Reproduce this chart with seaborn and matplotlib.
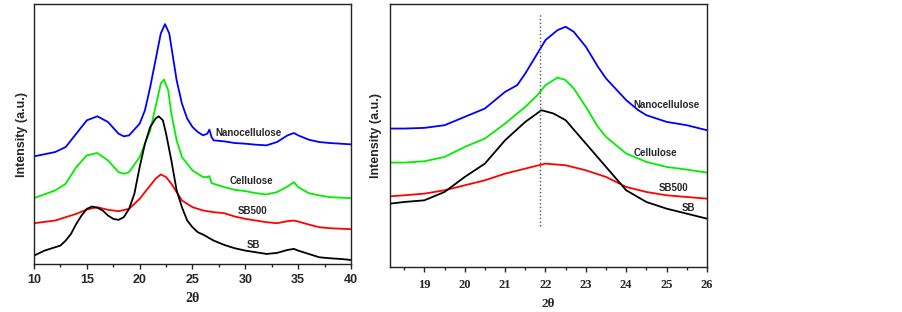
import numpy as np
import pandas as pd
import seaborn as sns
import matplotlib.pyplot as plt
from matplotlib.ticker import MultipleLocator

# ---- left panel: full scan, 2theta 10-40 (intensity in arbitrary units) ----
nano_x = [10, 12, 13, 14, 15, 16, 17, 18, 18.5, 19, 20, 20.5, 21, 21.5, 22, 22.4, 22.8, 23.2, 23.5, 24,
          24.5, 25, 25.5, 26, 26.4, 26.6, 26.8, 27, 28, 29, 30, 31, 32, 33, 34, 34.6, 35, 36, 37, 38, 40]
nano_y = [322, 335, 350, 390, 430, 442, 425, 390, 382, 385, 420, 460, 530, 610, 690, 718, 690, 610, 550, 480,
          435, 410, 395, 385, 390, 402, 380, 370, 367, 362, 360, 357, 355, 365, 385, 392, 385, 372, 365, 362, 358]

cell_x = [10, 12, 13, 14, 15, 16, 17, 18, 18.5, 19, 20, 21, 21.5, 22, 22.3, 22.7, 23, 23.5, 24, 25,
          26, 26.4, 26.6, 26.8, 27, 28, 29, 30, 31, 32, 33, 34, 34.6, 35, 36, 37, 38, 40]
cell_y = [197, 220, 240, 290, 325, 332, 310, 275, 270, 275, 320, 400, 470, 540, 552, 520, 450, 370, 320, 280,
          260, 260, 263, 242, 240, 230, 222, 218, 212, 208, 215, 232, 245, 230, 212, 205, 200, 197]

sb500_x = [10, 12, 13, 14, 15, 16, 17, 18, 19, 20, 21, 21.5, 22, 22.5, 23, 23.5, 24, 25, 26, 27,
           28, 29, 30, 31, 32, 33, 34, 34.6, 35, 36, 37, 38, 40]
sb500_y = [122, 130, 140, 150, 163, 170, 162, 158, 165, 195, 235, 255, 268, 260, 240, 215, 190, 170, 160, 155,
           152, 142, 135, 130, 125, 122, 128, 130, 127, 118, 110, 107, 104]

sb_x = [10, 11, 12, 12.5, 13, 13.5, 14, 14.5, 15, 15.5, 16, 16.5, 17, 17.5, 18, 18.5, 19, 19.5, 20, 20.5,
        21, 21.5, 21.8, 22.2, 22.5, 23, 23.5, 24, 24.5, 25, 25.5, 26, 27, 28, 29, 30, 31, 32, 33, 34,
        34.6, 35, 36, 37, 38, 39, 40]
sb_y = [25, 40, 50, 55, 70, 90, 120, 145, 165, 172, 168, 160, 145, 135, 132, 140, 165, 210, 290, 360,
        410, 435, 442, 430, 390, 310, 220, 170, 130, 110, 95, 88, 70, 57, 47, 40, 35, 30, 33, 42,
        45, 40, 30, 20, 17, 15, 12]

# ---- right panel: zoom on 2theta 18-26 ----
znano_x = [18.15, 18.5, 19, 19.5, 20, 20.5, 21, 21.3, 21.5, 21.8, 22, 22.3, 22.5, 22.7, 23, 23.3, 23.5, 24,
           24.3, 24.5, 25, 25.5, 26]
znano_y = [415, 415, 417, 425, 450, 475, 525, 545, 580, 640, 680, 710, 720, 705, 660, 600, 565, 500,
           470, 455, 435, 425, 410]

zcell_x = [18.15, 18.5, 19, 19.5, 20, 20.5, 21, 21.5, 21.8, 22, 22.3, 22.5, 22.7, 23, 23.3, 23.5, 24, 24.5,
           25, 25.5, 26]
zcell_y = [313, 313, 317, 330, 360, 385, 430, 480, 515, 545, 568, 560, 535, 480, 420, 390, 340, 315,
           300, 292, 283]

zsb500_x = [18.15, 18.5, 19, 19.5, 20, 20.5, 21, 21.5, 22, 22.5, 23, 23.5, 24, 24.5, 25, 25.5, 26]
zsb500_y = [212, 215, 220, 230, 245, 260, 280, 295, 310, 305, 290, 270, 240, 225, 215, 210, 205]

zsb_x = [18.15, 18.5, 19, 19.5, 20, 20.5, 21, 21.5, 21.9, 22.2, 22.5, 23, 23.5, 24, 24.5, 25, 25.5, 26]
zsb_y = [190, 195, 200, 225, 270, 310, 380, 435, 470, 460, 440, 370, 300, 230, 195, 175, 160, 145]

series = ["Nanocellulose", "Cellulose", "SB500", "SB"]
colors = ["#0000ff", "#00ee00", "#ff0000", "#000000"]

sns.set_style("ticks")
plt.rcParams['font.family'] = ['Liberation Sans', 'DejaVu Sans']

fig = plt.figure(figsize=(9.02, 3.12), dpi=100)
ax1 = fig.add_axes([0.0377, 0.154, 0.3514, 0.833])
ax2 = fig.add_axes([0.4324, 0.144, 0.3514, 0.843])

left_data = [(nano_x, nano_y), (cell_x, cell_y), (sb500_x, sb500_y), (sb_x, sb_y)]
right_data = [(znano_x, znano_y), (zcell_x, zcell_y), (zsb500_x, zsb500_y), (zsb_x, zsb_y)]

for (x, y), c in zip(left_data, colors):
    sns.lineplot(x=x, y=y, color=c, linewidth=1.3, ax=ax1)
for (x, y), c in zip(right_data, colors):
    sns.lineplot(x=x, y=y, color=c, linewidth=1.3, ax=ax2)

# curve labels
left_lab = [(30.3, 392), (30.6, 249), (30.7, 158), (30.8, 58)]
right_lab = [(25.0, 485), (24.72, 342), (25.16, 237), (25.55, 177)]
for name, (lx, ly) in zip(series, left_lab):
    ax1.text(lx, ly, name, fontsize=7, fontweight='bold', ha='center', va='center')
for name, (lx, ly) in zip(series, right_lab):
    ax2.text(lx, ly, name, fontsize=7, fontweight='bold', ha='center', va='center')

ax2.plot([21.87, 21.87], [122, 760], color='#555555', linestyle=':', linewidth=1)

ax1.set_xlim(10, 40)
ax1.set_ylim(0, 778)
ax1.xaxis.set_major_locator(MultipleLocator(5))
ax1.xaxis.set_minor_locator(MultipleLocator(2.5))
ax1.set_yticks([])
for lab in ax1.get_xticklabels():
    lab.set_fontweight('bold')
ax1.tick_params(axis='x', which='major', labelsize=9, length=3.5, width=1, pad=4)
ax1.tick_params(axis='x', which='minor', length=2.5, width=1)
ax1.set_xlabel("2θ", fontsize=10, fontweight='bold', family='Liberation Serif', labelpad=4)
ax1.set_ylabel("Intensity (a.u.)", fontsize=9, fontweight='bold', labelpad=4)

ax2.set_xlim(18.15, 26)
ax2.set_ylim(0, 788)
ax2.xaxis.set_major_locator(MultipleLocator(1))
ax2.xaxis.set_minor_locator(MultipleLocator(0.5))
ax2.set_yticks([])
ax2.tick_params(axis='x', which='major', labelsize=9, length=3.5, width=1, pad=5)
ax2.tick_params(axis='x', which='minor', length=2.5, width=1)
for lab in ax2.get_xticklabels():
    lab.set_fontweight('bold')
    lab.set_family('Liberation Serif')
ax2.set_xlabel("2θ", fontsize=9.5, fontweight='bold', family='Liberation Serif', labelpad=5)
ax2.set_ylabel("Intensity (a.u.)", fontsize=9, fontweight='bold', labelpad=6)

for ax in (ax1, ax2):
    for sp in ax.spines.values():
        sp.set_visible(True)
        sp.set_linewidth(1)
        sp.set_color('#222222')

fig.savefig("out.png", dpi=100)
